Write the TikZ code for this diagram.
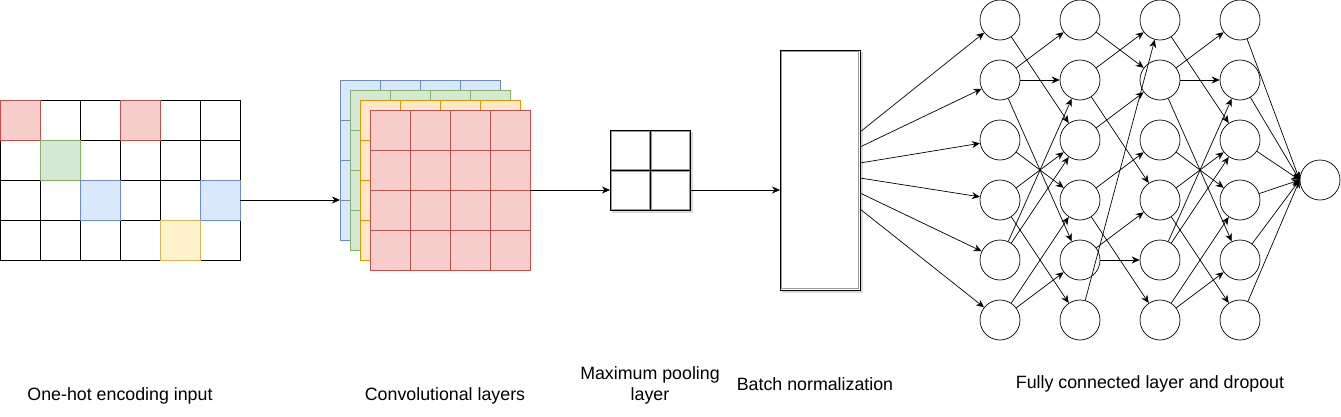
\documentclass[tikz,border=0pt]{standalone}
\usepackage{fontspec}
\setmainfont{Liberation Sans}
\usetikzlibrary{arrows.meta}
\definecolor{redF}{HTML}{F8CECC}\definecolor{redS}{HTML}{B85450}
\definecolor{grnF}{HTML}{D5E8D4}\definecolor{grnS}{HTML}{82B366}
\definecolor{bluF}{HTML}{DAE8FC}\definecolor{bluS}{HTML}{6C8EBF}
\definecolor{ylwF}{HTML}{FFF2CC}\definecolor{ylwS}{HTML}{D6B656}
\definecolor{orgF}{HTML}{FFE6CC}\definecolor{orgS}{HTML}{D79B00}
\begin{document}
\begin{tikzpicture}[x=1pt,y=-1pt,
  arr/.style={draw=black,line width=0.7pt,-{Stealth[length=8pt,width=7pt]}},
  neuron/.style={circle,draw=black,line width=0.7pt,minimum size=40pt,inner sep=0pt,fill=white},
  lbl/.style={font=\fontsize{17.8pt}{21pt}\selectfont,align=center,inner sep=0pt},
  box/.style={inner sep=0pt,outer sep=0pt}]
\useasboundingbox (0,0) rectangle (1341,416);

% ---- one-hot grid ----
\node[box,minimum width=240pt,minimum height=160pt] (grid) at (120,180) {};
\foreach \i in {0,...,5}{\foreach \j in {0,...,3}{
  \draw[black,line width=0.9pt] (\i*40,100+\j*40) rectangle ++(40,40);}}
\draw[fill=redF,draw=redS,line width=0.9pt] (0,100) rectangle ++(40,40);
\draw[fill=redF,draw=redS,line width=0.9pt] (120,100) rectangle ++(40,40);
\draw[fill=grnF,draw=grnS,line width=0.9pt] (40,140) rectangle ++(40,40);
\draw[fill=bluF,draw=bluS,line width=0.9pt] (80,180) rectangle ++(40,40);
\draw[fill=bluF,draw=bluS,line width=0.9pt] (200,180) rectangle ++(40,40);
\draw[fill=ylwF,draw=ylwS,line width=0.9pt] (160,220) rectangle ++(40,40);

% ---- conv layers ----
\foreach \n/\o/\f/\s in {cA/0/bluF/bluS, cB/10/grnF/grnS, cC/20/orgF/orgS, cD/30/redF/redS}{
  \node[box,minimum width=160pt,minimum height=160pt,fill=\f,draw=\s,line width=0.9pt] (\n) at (420+\o,160+\o) {};
  \foreach \k in {1,2,3}{
    \draw[\s,line width=0.9pt] (340+\o+\k*40,80+\o) -- ++(0,160);
    \draw[\s,line width=0.9pt] (340+\o,80+\o+\k*40) -- ++(160,0);}
}

% ---- pooling ----
\fill[black!15] (612,132) rectangle (693,213);
\node[box,minimum width=80pt,minimum height=80pt,fill=white] (pool) at (650,170) {};
\foreach \a/\b in {610/130,650/130,610/170,650/170}{
  \draw[black!40,line width=0.6pt] (\a+1.2,\b+1.2) rectangle ++(37.6,37.6);
  \draw[black,line width=0.9pt] (\a,\b) rectangle ++(40,40);}

% ---- batch normalization ----
\fill[black!15] (782,52) rectangle (863,293);
\node[box,minimum width=80pt,minimum height=240pt,fill=white,draw=black,line width=0.9pt] (bn) at (820,170) {};
\draw[black!40,line width=0.6pt] (781.5,51.5) rectangle (858.5,288.5);

% ---- neurons ----
\foreach \c/\x in {A/1000,B/1080,C/1160,D/1240}{
  \foreach \r in {1,...,6}{
    \node[neuron] (\c\r) at (\x,{20+(\r-1)*60}) {};}}
\node[neuron] (out) at (1320,180) {};

% ---- main flow arrows ----
\coordinate (g) at (240,200);
\draw[arr] (g) -- ([yshift=-40pt]cA.west);
\draw[arr] (cD.east) -- ([yshift=-20pt]pool.west);
\draw[arr] ([yshift=-20pt]pool.east) -- ([yshift=-20pt]bn.west);

% ---- bn to first layer ----
\foreach \r/\y in {1/132,2/147,3/163,4/178,5/193,6/209}{
  \coordinate (b\r) at (860,\y);
  \draw[arr] (b\r) -- (A\r);}

% ---- A -> B ----
\foreach \s/\t in {1/3,2/1,2/2,2/5,3/4,4/3,4/6,5/2,5/3,6/4,6/5}{
  \draw[arr] (A\s) -- (B\t);}
% ---- B -> C ----
\foreach \s/\t in {1/2,2/1,2/4,3/2,4/3,4/6,5/4,5/5,6/1}{
  \draw[arr] (B\s) -- (C\t);}
% ---- C -> D ----
\foreach \s/\t in {1/3,2/1,2/2,2/5,3/4,4/3,4/6,5/2,5/3,6/4,6/5}{
  \draw[arr] (C\s) -- (D\t);}
% ---- D -> out ----
\foreach \s in {1,...,6}{\draw[arr] (D\s) -- (out.west);}

% ---- labels ----
\node[lbl] (l1) at (120,396) {One-hot encoding input};
\node[lbl] (l2) at (445,396) {Convolutional layers};
\node[lbl] (l3) at (650,385) {Maximum pooling\\layer};
\node[lbl] (l4) at (815,384) {Batch normalization};
\node[lbl] (l5) at (1150,384) {Fully connected layer and dropout};
\end{tikzpicture}
\end{document}
